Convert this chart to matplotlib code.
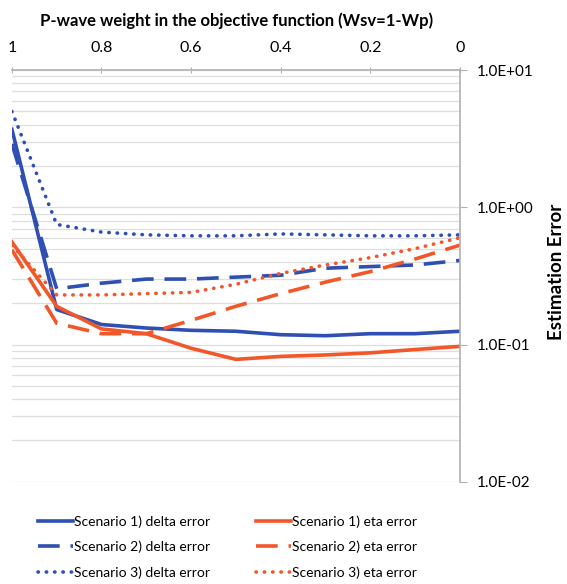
import matplotlib.pyplot as plt
import numpy as np
from matplotlib.ticker import FixedLocator, FuncFormatter, LogLocator, NullFormatter

plt.rcParams['font.family'] = ['Lato', 'DejaVu Sans']

wp = [1.0, 0.9, 0.8, 0.7, 0.6, 0.5, 0.4, 0.3, 0.2, 0.1, 0.0]

s1_delta = [3.7, 0.18, 0.14, 0.132, 0.127, 0.125, 0.118, 0.116, 0.12, 0.12, 0.125]
s2_delta = [2.9, 0.255, 0.28, 0.30, 0.30, 0.31, 0.32, 0.36, 0.37, 0.38, 0.41]
s3_delta = [5.0, 0.75, 0.66, 0.63, 0.62, 0.62, 0.64, 0.63, 0.62, 0.62, 0.63]
s1_eta = [0.56, 0.19, 0.13, 0.12, 0.094, 0.078, 0.082, 0.084, 0.087, 0.092, 0.097]
s2_eta = [0.49, 0.143, 0.12, 0.12, 0.15, 0.19, 0.235, 0.285, 0.34, 0.42, 0.53]
s3_eta = [0.53, 0.23, 0.23, 0.235, 0.24, 0.275, 0.33, 0.38, 0.43, 0.5, 0.6]

blue = '#2f4fb3'
red = '#f2572a'

fig = plt.figure(figsize=(5.67, 5.84), dpi=100)
ax = fig.add_axes([0.021, 0.175, 0.79, 0.705])

dash = (0, (6, 3))
dot = (0, (0.1, 2.2))
# plotted delta first, then eta, so the 2-column legend reads like the original
ax.plot(wp, s1_delta, color=blue, lw=2.6, label='Scenario 1) delta error')
ax.plot(wp, s2_delta, color=blue, lw=2.6, ls=dash, label='Scenario 2) delta error')
ax.plot(wp, s3_delta, color=blue, lw=2.6, ls=dot, dash_capstyle='round', label='Scenario 3) delta error')
ax.plot(wp, s1_eta, color=red, lw=2.6, label='Scenario 1) eta error')
ax.plot(wp, s2_eta, color=red, lw=2.6, ls=dash, label='Scenario 2) eta error')
ax.plot(wp, s3_eta, color=red, lw=2.6, ls=dot, dash_capstyle='round', label='Scenario 3) eta error')

ax.set_yscale('log')
ax.set_ylim(0.01, 10)
ax.set_xlim(1, 0)

ax.xaxis.tick_top()
ax.set_xticks([1, 0.8, 0.6, 0.4, 0.2, 0])
ax.set_xticklabels(['1', '0.8', '0.6', '0.4', '0.2', '0'], fontsize=11.5)
ax.tick_params(axis='x', direction='inout', length=5, color='#b0b0b0', pad=8)

ax.yaxis.tick_right()
ax.yaxis.set_major_locator(FixedLocator([0.01, 0.1, 1, 10]))
ax.yaxis.set_major_formatter(FuncFormatter(lambda v, p: '%.1E' % v))
ax.yaxis.set_minor_locator(LogLocator(base=10, subs=np.arange(2, 10)))
ax.yaxis.set_minor_formatter(NullFormatter())
ax.tick_params(axis='y', which='major', direction='out', length=5, color='#b0b0b0', labelsize=11, pad=7)
ax.tick_params(axis='y', which='minor', length=0)

ax.grid(True, axis='y', which='both', color='#dedede', lw=0.9)
ax.set_axisbelow(True)

for side in ['left', 'bottom']:
    ax.spines[side].set_visible(False)
for side in ['top', 'right']:
    ax.spines[side].set_color('#b0b0b0')
    ax.spines[side].set_linewidth(1.2)

fig.text(0.07, 0.978, 'P-wave weight in the objective function (Wsv=1-Wp)',
         fontsize=12, fontweight='bold', ha='left', va='top')
fig.text(0.982, 0.535, 'Estimation Error', fontsize=13.5, fontweight='bold',
         rotation=90, ha='center', va='center')

fig.legend(loc='lower left', bbox_to_anchor=(0.045, -0.013), ncol=2, frameon=False,
           fontsize=10, handlelength=2.5, handletextpad=0.1, columnspacing=3.3,
           labelspacing=0.95)

fig.savefig('out.png', dpi=100)
